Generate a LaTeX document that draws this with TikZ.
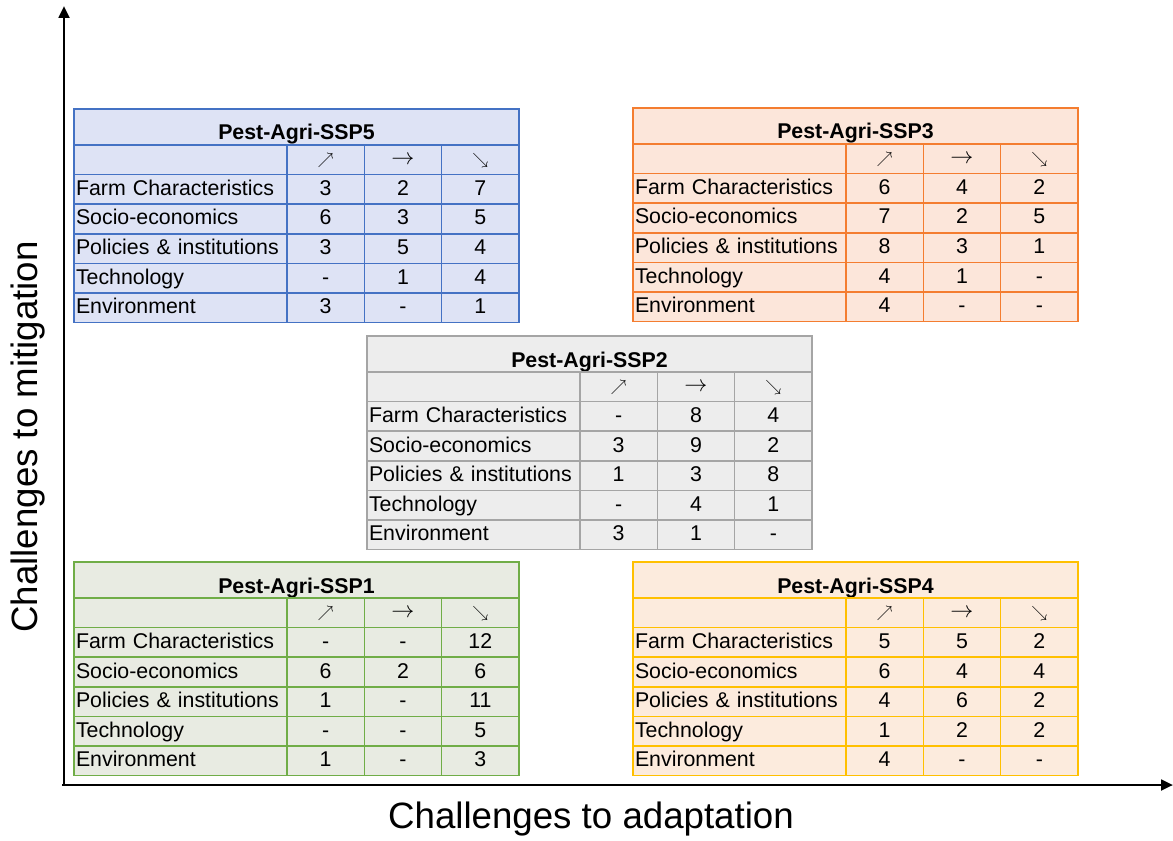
\documentclass[tikz,border=0pt]{standalone}
\usepackage{fontspec}
\setmainfont{Liberation Sans}
\usetikzlibrary{arrows.meta}

\definecolor{sspfiveline}{HTML}{4472C4}
\definecolor{sspfivefill}{HTML}{DEE3F5}
\definecolor{sspthreeline}{HTML}{F47D30}
\definecolor{sspthreefill}{HTML}{FCE6DA}
\definecolor{ssptwoline}{HTML}{A5A5A5}
\definecolor{ssptwofill}{HTML}{EDEDED}
\definecolor{ssponeline}{HTML}{70AD47}
\definecolor{ssponefill}{HTML}{E8EBE2}
\definecolor{sspfourline}{HTML}{FFC000}
\definecolor{sspfourfill}{HTML}{FCEBDD}

% One scenario table: #1 name, #2 top left corner, #3 title, #4 line colour, #5 fill, #6 rows
\newcommand{\ssptable}[6]{%
    \begin{scope}[shift={#2}, every node/.append style={draw=#4, fill=#5}]
        \node [titlecell] (#1-title) at (222.5,18) {#3};
        \node [labcell] (#1-head) at (106.5,50.8) {};
        \node [arrowcell] (#1-up) at (251.65,50.8) {$\nearrow$};
        \node [arrowcell, font=\fontsize{17}{18}\selectfont] (#1-same) at (329,50.8) {$\rightarrow$};
        \node [arrowcell] (#1-down) at (406.35,50.8) {$\searrow$};
        \foreach \lab/\nup/\nsame/\ndown [count=\i] in {#6} {
            \node [labcell] (#1-r\i) at (106.5,{50.8+29.6*\i}) {\lab};
            \node [numcell] (#1-r\i-up) at (251.65,{50.8+29.6*\i}) {\nup};
            \node [numcell] (#1-r\i-same) at (329,{50.8+29.6*\i}) {\nsame};
            \node [numcell] (#1-r\i-down) at (406.35,{50.8+29.6*\i}) {\ndown};
        }
    \end{scope}}

\begin{document}
\begin{tikzpicture}[
        x=0.75pt, y=-0.75pt,
        font=\fontsize{16}{18}\selectfont,
        % Styles
        titlecell/.style={% For the title row of a table
            rectangle,
            line width=1.1pt,
            minimum width=333.75pt,
            minimum height=27pt,
            inner sep=0pt,
            text height=19.5pt,
            text depth=0pt,
            font=\fontsize{16}{18}\selectfont\bfseries,
            },
        labcell/.style={% For the row names
            rectangle,
            line width=1.1pt,
            text width=156.75pt,
            align=left,
            inner xsep=1.5pt,
            inner ysep=0pt,
            minimum height=22.2pt,
            text height=11pt,
            text depth=2pt,
            },
        numcell/.style={% For the counts
            rectangle,
            line width=1.1pt,
            minimum width=58pt,
            minimum height=22.2pt,
            inner sep=0pt,
            text height=11pt,
            text depth=2pt,
            },
        arrowcell/.style={% For the trend arrows in the header row
            numcell,
            font=\fontsize{12.5}{14}\selectfont,
            text height=8pt,
            text depth=1pt,
            },
        axis/.style={% For the two axes
            line width=2pt,
            -{Triangle[length=9pt, width=8pt]},
            },
        axislabel/.style={% For the axis names
            font=\fontsize{27.5}{30}\selectfont,
            },
        ]

    \useasboundingbox (0,0) rectangle (1173,841);

    % Axes
        \coordinate (origin) at (64,785);
        \coordinate (ytop) at (64,6);
        \coordinate (xend) at (1173,785);
        \draw [axis] (origin) -- (ytop);
        \draw [axis] (62,785) -- (xend);
        \node [axislabel] (xlab) at (591,819) {Challenges to adaptation};
        \node [axislabel, rotate=90] (ylab) at (28,437) {Challenges to mitigation};

    % Tables
        \ssptable{ssp5}{(74,109)}{Pest-Agri-SSP5}{sspfiveline}{sspfivefill}{%
            Farm Characteristics/3/2/7, Socio-economics/6/3/5,
            Policies \& institutions/3/5/4, Technology/-/1/4, Environment/3/-/1}
        \ssptable{ssp3}{(633,108)}{Pest-Agri-SSP3}{sspthreeline}{sspthreefill}{%
            Farm Characteristics/6/4/2, Socio-economics/7/2/5,
            Policies \& institutions/8/3/1, Technology/4/1/-, Environment/4/-/-}
        \ssptable{ssp2}{(367,336)}{Pest-Agri-SSP2}{ssptwoline}{ssptwofill}{%
            Farm Characteristics/-/8/4, Socio-economics/3/9/2,
            Policies \& institutions/1/3/8, Technology/-/4/1, Environment/3/1/-}
        \ssptable{ssp1}{(74,562)}{Pest-Agri-SSP1}{ssponeline}{ssponefill}{%
            Farm Characteristics/-/-/12, Socio-economics/6/2/6,
            Policies \& institutions/1/-/11, Technology/-/-/5, Environment/1/-/3}
        \ssptable{ssp4}{(633,562)}{Pest-Agri-SSP4}{sspfourline}{sspfourfill}{%
            Farm Characteristics/5/5/2, Socio-economics/6/4/4,
            Policies \& institutions/4/6/2, Technology/1/2/2, Environment/4/-/-}

\end{tikzpicture}
\end{document}
